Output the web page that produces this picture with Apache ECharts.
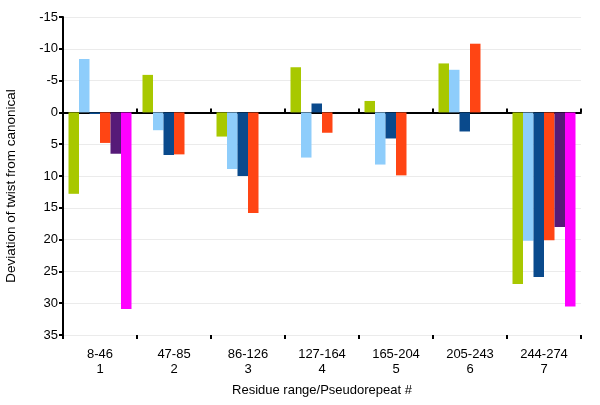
<!DOCTYPE html>
<html><head><meta charset="utf-8">
<script src="https://cdn.jsdelivr.net/npm/echarts@6/dist/echarts.min.js"></script>
<style>html,body{margin:0;padding:0;background:#fff}#c{width:600px;height:405px}</style>
</head><body><div id="c"></div>
<script>
var categories = ['8-46\n1','47-85\n2','86-126\n3','127-164\n4','165-204\n5','205-243\n6','244-274\n7'];
var s1 = [12.8, -5.9, 3.8, -7.1, -1.8, -7.7, 27.0];
var s2 = [-8.4, 2.8, 8.9, 7.1, 8.2, -6.7, 20.2];
var s3 = [0.25, 6.7, 10.0, -1.4, 4.1, 3.0, 25.9];
var s4 = [4.8, 6.6, 15.8, 3.2, 9.9, -10.8, 20.1];
var s5 = [6.5, null, null, null, null, null, 18.0];
var s6 = [30.9, null, null, null, null, null, 30.5];
var colors = ['#a8c800', '#8ecdfb', '#0a4a8c', '#ff4514', '#561a78', '#ff00ff'];
var yTicks = {min: -15, max: 35, interval: 5};

var font = 'Arial, "Liberation Sans", sans-serif';
var chart = echarts.init(document.getElementById('c'));
function bar(d, i) {
  return {type: 'bar', data: d, xAxisIndex: 0, barWidth: 10.5, barGap: '0%',
    itemStyle: {color: colors[i]}, animation: false};
}
chart.setOption({
  animation: false,
  grid: {left: 63, right: 19, top: 17, bottom: 70, containLabel: false, outerBoundsMode: 'none'},
  xAxis: [{
    type: 'category', data: categories, position: 'bottom',
    axisLine: {show: false, onZero: false},
    axisTick: {show: true, length: 4, lineStyle: {color: '#000', width: 2}},
    axisLabel: {color: '#000', fontSize: 13, fontFamily: font, lineHeight: 15, margin: 12},
    name: 'Residue range/Pseudorepeat #', nameLocation: 'middle', nameGap: 49,
    nameTextStyle: {color: '#000', fontSize: 13, fontFamily: font},
    splitLine: {show: false}
  }, {
    type: 'category', data: categories, position: 'bottom',
    axisLine: {show: true, onZero: true, lineStyle: {color: '#000', width: 2}},
    axisTick: {show: true, inside: true, length: 4, lineStyle: {color: '#000', width: 2}},
    axisLabel: {show: false}, splitLine: {show: false}
  }],
  yAxis: {
    type: 'value', inverse: true, min: yTicks.min, max: yTicks.max, interval: yTicks.interval,
    axisLine: {show: true, lineStyle: {color: '#000', width: 2}},
    axisTick: {show: true, length: 4, lineStyle: {color: '#000', width: 2}},
    axisLabel: {color: '#000', fontSize: 13, fontFamily: font, margin: 5},
    splitLine: {show: true, lineStyle: {color: '#ebebeb', width: 1}},
    name: 'Deviation of twist from canonical', nameLocation: 'middle', nameGap: 45,
    nameTextStyle: {color: '#000', fontSize: 13.5, fontFamily: font, padding: [0, 20, 0, 0]}
  },
  series: [bar(s1,0), bar(s2,1), bar(s3,2), bar(s4,3), bar(s5,4), bar(s6,5)]
});
</script></body></html>
